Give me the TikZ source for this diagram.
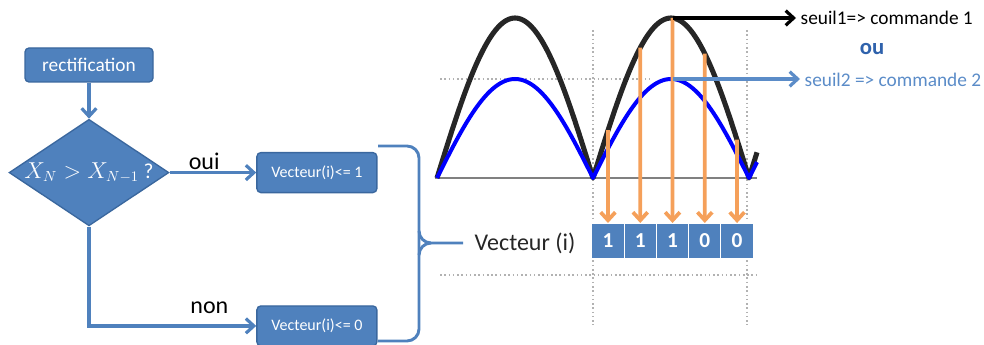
\documentclass[tikz,border=0pt]{standalone}
\usepackage{fontspec}
\setmainfont{Carlito}
\usepackage{xcolor}
\usepackage{tikz}
\usetikzlibrary{arrows.meta,positioning,shapes.geometric}

\definecolor{boxblue}{HTML}{4F81BD}
\definecolor{boxedge}{HTML}{3A679E}
\definecolor{orangearr}{HTML}{F5A05A}
\definecolor{seuilblue}{HTML}{5B8CC8}
\definecolor{oublue}{HTML}{2F62AC}
\definecolor{courbenoire}{HTML}{262626}

\begin{document}
\begin{tikzpicture}[
      x=0.75pt, y=-0.75pt,
      node distance=27pt and 65pt,
      block/.style={draw=boxedge, fill=boxblue, rounded corners=3pt, line width=1pt, text=white,
        minimum width=90pt, minimum height=30pt, font=\fontsize{12}{14}\selectfont},
      decision/.style={diamond, draw=boxedge, fill=boxblue, line width=1pt, text=white, aspect=1.5,
        minimum width=116pt, minimum height=78pt, inner sep=0pt, font=\fontsize{16}{18}\selectfont},
      cell/.style={fill=boxblue, draw=white, line width=0.8pt, text=white, minimum width=24.2pt,
        minimum height=27pt, inner sep=0pt, outer sep=0pt, font=\fontsize{16}{18}\selectfont\bfseries},
      arr/.style={-{Straight Barb[length=6pt,width=11pt]}, boxblue, line width=2.4pt},
      sortie/.style={-{Straight Barb[length=6pt,width=11pt]}, orangearr, line width=2.8pt},
      guide/.style={gray!60, dotted, line width=1.2pt},
    ]
    \useasboundingbox (0,0) rectangle (984,345);
    % organigramme
    \node[block, minimum width=96pt, minimum height=25.5pt, font=\fontsize{14.5}{16}\selectfont] (rect) at (89,65) {rectification};
    \node[decision, below=27pt of rect] (test) {$X_N > X_{N-1}$ ?};
    \node[block, right=65pt of test] (un) {Vecteur(i)<= 1};
    \node[block, below=84pt of un] (zero) {Vecteur(i)<= 0};
    \draw[arr] (rect) -- (test);
    \draw[arr] (test) -- node[pos=0.4, above, text=black, font=\fontsize{18}{20}\selectfont, yshift=-2pt] {oui} (un);
    \draw[arr] (test.south) |- node[pos=0.86, above, text=black, font=\fontsize{18}{20}\selectfont, yshift=5pt] {non} (zero.west);
    % accolade
    \node[anchor=west, text=courbenoire, font=\fontsize{18}{20}\selectfont] (vec) at (470,243) {Vecteur (i)};
    \draw[boxblue, line width=2.2pt, rounded corners=9pt] (378,146) -| (419,243) |- (378,341);
    \draw[boxblue, line width=2.2pt] (419,231) to[out=-90, in=180] (431,243) -- (463,243);
    \draw[boxblue, line width=2.2pt] (419,255) to[out=90, in=180] (431,243);
    % vecteur
    \draw[guide] (440,79) -- (650,79);
    \draw[guide] (593,30) -- (593,325);
    \draw[guide] (747,30) -- (747,325);
    \draw[guide] (440,275) -- (757,275);
    \node[cell] (c1) at (608,241) {1};
    \node[cell, right=0pt of c1] (c2) {1};
    \node[cell, right=0pt of c2] (c3) {1};
    \node[cell, right=0pt of c3] (c4) {0};
    \node[cell, right=0pt of c4] (c5) {0};
    % signaux redresses
    \draw[gray, line width=2.2pt] (435,178) -- (757,178);
    \draw[courbenoire, line width=3.8pt, line join=round] plot[domain=437:757, samples=161] (\x, {178-160*abs(sin((\x-437)/156*180))});
    \draw[blue, line width=3pt, line join=round] plot[domain=437:757, samples=161] (\x, {178-99*abs(sin((\x-437)/156*180))});
    \coordinate (t1) at (608,{178-160*abs(sin(171/156*180))});
    \coordinate (t2) at (640.3,{178-160*abs(sin(203.3/156*180))});
    \coordinate (t3) at (672.5,18);
    \coordinate (t4) at (704.8,{178-160*abs(sin(267.8/156*180))});
    \coordinate (t5) at (737,{178-160*abs(sin(300/156*180))});
    \coordinate (m2) at (672.5,79);
    \draw[sortie] (t1) -- (c1.north);
    \draw[sortie] (t2) -- (c2.north);
    \draw[sortie] (t3) -- (c3.north);
    \draw[sortie] (t4) -- (c4.north);
    \draw[sortie] (t5) -- (c5.north);
    % seuils
    \node[anchor=west, font=\fontsize{14.5}{16}\selectfont] (s1) at (796,18) {seuil1=> commande 1};
    \node[text=oublue, font=\fontsize{17}{19}\selectfont\bfseries] (ou) at (872,49) {ou};
    \node[anchor=west, text=seuilblue, font=\fontsize{14.5}{16}\selectfont] (s2) at (800,80) {seuil2 => commande 2};
    \draw[-{Straight Barb[length=6pt,width=11pt]}, black, line width=2.4pt] (t3) -- (t3 -| s1.west);
    \draw[-{Straight Barb[length=6pt,width=11pt]}, seuilblue, line width=2.4pt] (m2) -- (m2 -| s2.west);
  \end{tikzpicture}
\end{document}
